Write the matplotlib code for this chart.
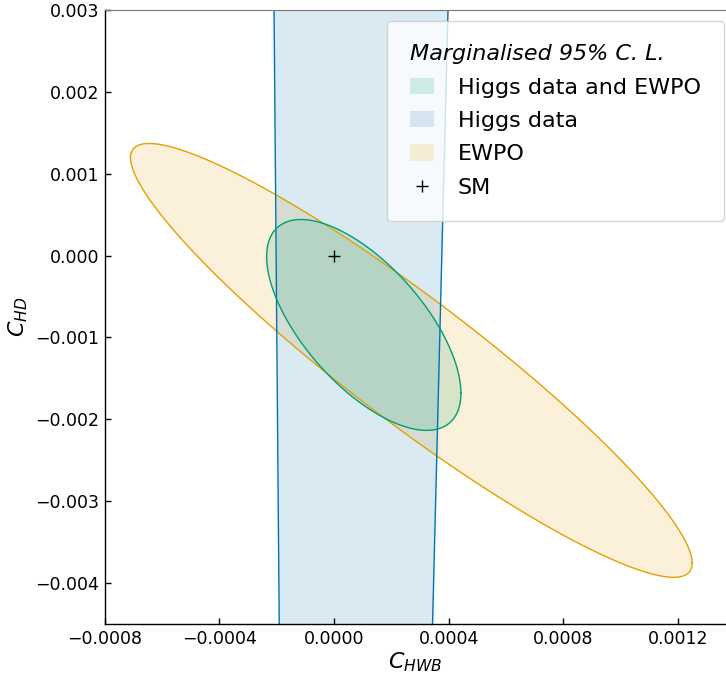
import numpy as np
import matplotlib
matplotlib.use("Agg")
import matplotlib.pyplot as plt
from matplotlib.patches import Patch
from matplotlib.lines import Line2D

# ---- data ----
# ellipses given as centre, half-extent in x / y, and correlation
ewpo_center = [0.00027, -0.00128]
ewpo_extent = [0.00098, 0.00265]
ewpo_rho = -0.934

comb_center = [0.000104, -0.000847]
comb_extent = [0.000339, 0.001288]
comb_rho = -0.647

# Higgs-data band: left/right edge x at the top and bottom of the plot
band_y = [0.003, -0.0045]
band_left_x = [-0.000209, -0.000191]
band_right_x = [0.000398, 0.000344]

sm_point = [0.0, 0.0]

x_ticks = [-0.0008, -0.0004, 0.0, 0.0004, 0.0008, 0.0012]
y_ticks = [-0.004, -0.003, -0.002, -0.001, 0.0, 0.001, 0.002, 0.003]

c_green = "#009E73"
c_blue = "#0072B2"
c_orange = "#E69F00"


def ellipse(center, extent, rho, n=400):
    t = np.linspace(0, 2 * np.pi, n)
    x = center[0] + extent[0] * np.cos(t)
    y = center[1] + extent[1] * (rho * np.cos(t) + np.sqrt(1 - rho ** 2) * np.sin(t))
    return x, y


fig = plt.figure(figsize=(7.26, 6.76), dpi=100)
ax = fig.add_axes([104.7 / 726, 1 - 624 / 676, 1 - 104.7 / 726, (624 - 10) / 676])

# EWPO
ex, ey = ellipse(ewpo_center, ewpo_extent, ewpo_rho)
ax.fill(ex, ey, color=c_orange, alpha=0.15, lw=0)
ax.plot(ex, ey, color=c_orange, lw=1.0)

# Higgs band
by = np.array(band_y)
ax.fill_betweenx(by, band_left_x, band_right_x, color=c_blue, alpha=0.15, lw=0)
ax.plot(band_left_x, by, color=c_blue, lw=1.0)
ax.plot(band_right_x, by, color=c_blue, lw=1.0)

# Combined
cx, cy = ellipse(comb_center, comb_extent, comb_rho)
ax.fill(cx, cy, color=c_green, alpha=0.14, lw=0)
ax.plot(cx, cy, color=c_green, lw=1.0)

# SM
ax.plot([sm_point[0]], [sm_point[1]], marker="+", color="black", ms=8.5, mew=1.0, ls="none")

ax.set_xlim(-0.0008, 0.001368)
ax.set_ylim(-0.0045, 0.003)
ax.set_xticks(x_ticks)
ax.set_yticks(y_ticks)
ax.set_xticklabels([f"{v:.4f}".replace("-", "\u2212") for v in x_ticks])
ax.set_yticklabels([f"{v:.3f}".replace("-", "\u2212") for v in y_ticks])
ax.tick_params(direction="in", length=4.5, width=1.0, labelsize=12.5, pad=4)
ax.spines["right"].set_visible(False)
ax.spines["top"].set_color("#777777")
ax.spines["left"].set_linewidth(1.0)
ax.spines["bottom"].set_linewidth(1.0)

ax.set_xlabel(r"$C_{HWB}$", fontsize=16, labelpad=2)
ax.set_ylabel(r"$C_{HD}$", fontsize=16, labelpad=4)

handles = [
    Patch(facecolor=c_green, alpha=0.17, edgecolor="none"),
    Patch(facecolor=c_blue, alpha=0.15, edgecolor="none"),
    Patch(facecolor=c_orange, alpha=0.15, edgecolor="none"),
    Line2D([], [], marker="+", color="black", ls="none", ms=8.5),
]
labels = ["Higgs data and EWPO", "Higgs data", "EWPO", "SM"]
leg = ax.legend(handles, labels, loc="upper right",
                bbox_to_anchor=((724 - 104.7) / (726 - 104.7), 1 - 11 / 614),
                borderaxespad=0.0, fontsize=16,
                title="Marginalised 95% C. L.", title_fontsize=16,
                alignment="left", handlelength=1.1, handleheight=0.75,
                handletextpad=1.05, labelspacing=0.6, borderpad=1.05)
leg.get_title().set_fontstyle("italic")

fig.savefig("out.png", dpi=100)
